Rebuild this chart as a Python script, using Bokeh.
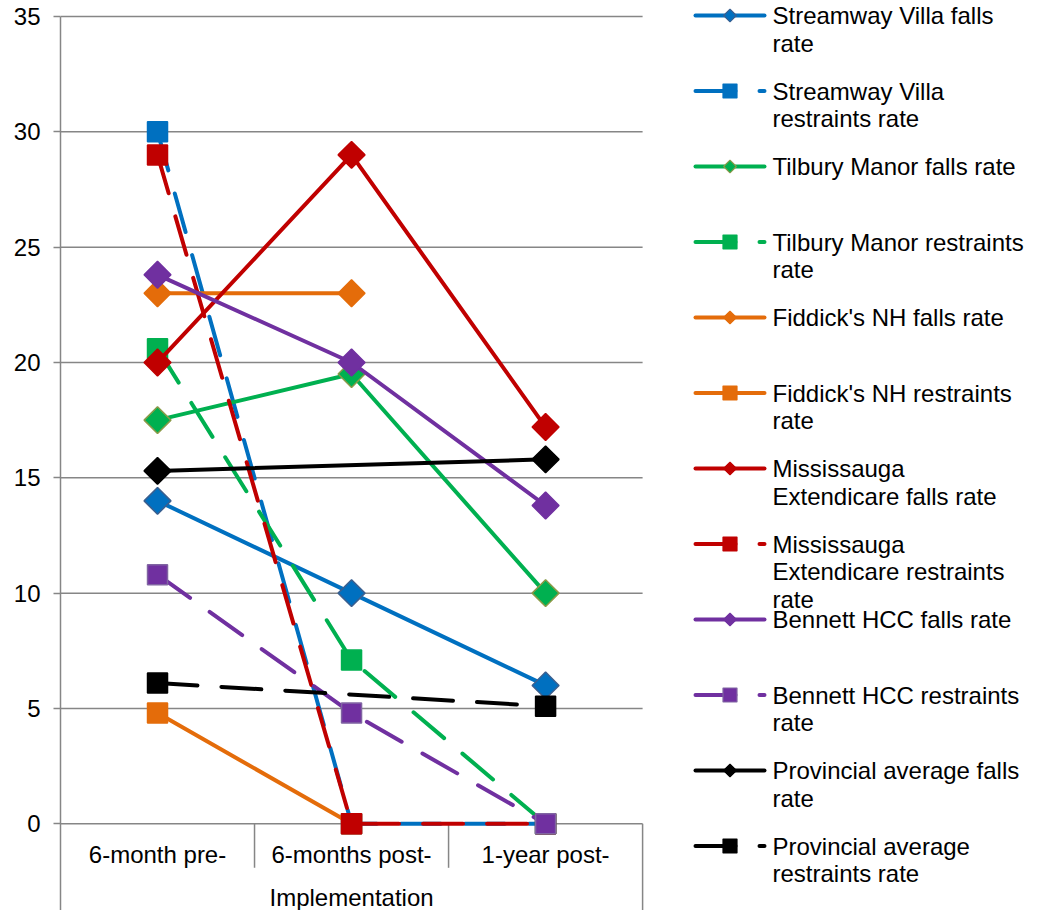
import math
from bokeh.plotting import figure
from bokeh.layouts import row
from bokeh.models import Range1d, FixedTicker
from bokeh.core.properties import value
from bokeh.embed import file_html
from bokeh.resources import INLINE

# ---------------- data ----------------
categories = ["6-month pre-", "6-months post-", "1-year post-"]
group_label = "Implementation"
y_ticks = [0, 5, 10, 15, 20, 25, 30, 35]

series_names = [
    "Streamway Villa falls rate",
    "Streamway Villa restraints rate",
    "Tilbury Manor falls rate",
    "Tilbury Manor restraints rate",
    "Fiddick's NH falls rate",
    "Fiddick's NH restraints rate",
    "Mississauga Extendicare falls rate",
    "Mississauga Extendicare restraints rate",
    "Bennett HCC falls rate",
    "Bennett HCC restraints rate",
    "Provincial average falls rate",
    "Provincial average restraints rate",
]
# legend text as wrapped in the original
legend_lines = [
    ["Streamway Villa falls", "rate"],
    ["Streamway Villa", "restraints rate"],
    ["Tilbury Manor falls rate"],
    ["Tilbury Manor restraints", "rate"],
    ["Fiddick's NH falls rate"],
    ["Fiddick's NH restraints", "rate"],
    ["Mississauga", "Extendicare falls rate"],
    ["Mississauga", "Extendicare restraints", "rate"],
    ["Bennett HCC falls rate"],
    ["Bennett HCC restraints", "rate"],
    ["Provincial average falls", "rate"],
    ["Provincial average", "restraints rate"],
]

streamway_falls = [14.0, 10.0, 6.0]
streamway_restraints = [30.0, 0.0, 0.0]
tilbury_falls = [17.5, 19.5, 10.0]
tilbury_restraints = [20.6, 7.1, 0.0]
fiddick_falls = [23.0, 23.0, None]
fiddick_restraints = [4.8, 0.0, None]
mississauga_falls = [20.0, 29.0, 17.2]
mississauga_restraints = [29.0, 0.0, 0.0]
bennett_falls = [23.8, 20.0, 13.8]
bennett_restraints = [10.8, 4.8, 0.0]
provincial_falls = [15.3, None, 15.8]
provincial_restraints = [6.1, None, 5.1]

series_values = [
    streamway_falls, streamway_restraints,
    tilbury_falls, tilbury_restraints,
    fiddick_falls, fiddick_restraints,
    mississauga_falls, mississauga_restraints,
    bennett_falls, bennett_restraints,
    provincial_falls, provincial_restraints,
]

# ---------------- styles ----------------
BLUE, GREEN, ORANGE, RED, PURPLE, BLACK = "#0070C0", "#00B050", "#E46C0A", "#C00000", "#7030A0", "#000000"
series_colors = [BLUE, BLUE, GREEN, GREEN, ORANGE, ORANGE, RED, RED, PURPLE, PURPLE, BLACK, BLACK]
marker_borders = ["#3A5F8F", BLUE, "#8A9A48", GREEN, ORANGE, ORANGE, RED, RED, PURPLE, "#8064A2", BLACK, BLACK]
is_diamond = [True, False] * 6
dashed = [False, True, False, True, False, False, False, True, False, True, False, True]

FONT = value("Liberation Sans")
FS = "24px"
GRID = "#868686"
DASH = "40 24"

PX_PER_UNIT = 807.3 / 35.0
Y_BOTTOM = -(910 - 823.3) / PX_PER_UNIT
Y_TOP = 35 + 16 / PX_PER_UNIT
ncat = len(categories)

p = figure(
    width=680, height=910,
    x_range=Range1d(0, ncat * 1.0067), y_range=Range1d(Y_BOTTOM, Y_TOP),
    x_axis_location=None, toolbar_location=None, output_backend="svg",
    min_border_left=60, min_border_right=34, min_border_top=0, min_border_bottom=0,
)
p.grid.visible = False
p.outline_line_color = None
p.background_fill_color = "white"
p.border_fill_color = "white"

ax = p.yaxis[0]
ax.ticker = FixedTicker(ticks=y_ticks)
ax.bounds = (Y_BOTTOM, max(y_ticks))
ax.minor_tick_line_color = None
ax.major_tick_in = 0
ax.major_tick_out = 7
ax.major_tick_line_color = GRID
ax.major_tick_line_width = 1.5
ax.axis_line_color = GRID
ax.axis_line_width = 1.5
ax.major_label_text_font = "Liberation Sans"
ax.major_label_text_font_size = FS
ax.major_label_text_color = "black"
ax.major_label_standoff = 13

# horizontal gridlines across the category span
p.segment(x0=[0] * len(y_ticks), x1=[ncat] * len(y_ticks), y0=y_ticks, y1=y_ticks,
          line_color=GRID, line_width=1.5)
# category separators and the right-hand border of the category axis
sep_x = list(range(1, ncat))
p.segment(x0=sep_x, x1=sep_x, y0=[0] * len(sep_x), y1=[-44 / PX_PER_UNIT] * len(sep_x),
          line_color=GRID, line_width=1.5)
p.segment(x0=[ncat], x1=[ncat], y0=[0], y1=[Y_BOTTOM], line_color=GRID, line_width=1.5)

# category labels and the group label
cat_x = [i + 0.5 for i in range(ncat)]
p.text(x=cat_x, y=[-(853.5 - 823.3) / PX_PER_UNIT] * ncat, text=categories,
       text_align="center", text_baseline="middle", text_font=FONT,
       text_font_size=FS, text_color="black")
p.text(x=[ncat / 2], y=[-(896.5 - 823.3) / PX_PER_UNIT], text=[group_label],
       text_align="center", text_baseline="middle", text_font=FONT,
       text_font_size=FS, text_color="black")

for vals, col, bcol, dia, dsh in zip(series_values, series_colors, marker_borders, is_diamond, dashed):
    xs = [cat_x[i] for i, v in enumerate(vals) if v is not None]
    ys = [v for v in vals if v is not None]
    p.line(xs, ys, line_color=col, line_width=4, line_dash=DASH if dsh else "solid",
           line_cap="round", line_join="round")
    p.scatter(xs, ys, marker="square", angle=math.pi / 4 if dia else 0.0,
              size=19 if dia else 20, fill_color=col, line_color=bcol, line_width=1.5)

# ---------------- legend panel ----------------
# frame spans pixel rows 0..910, data units = pixels
leg = figure(
    width=359, height=910, x_range=Range1d(680, 1039), y_range=Range1d(910, 0),
    x_axis_location=None, y_axis_location=None, toolbar_location=None,
    output_backend="svg",
    min_border_left=0, min_border_right=0, min_border_top=0, min_border_bottom=0,
)
leg.grid.visible = False
leg.outline_line_color = None
leg.background_fill_color = "white"
leg.border_fill_color = "white"

for i, (lines, col, bcol, dia, dsh) in enumerate(zip(legend_lines, series_colors, marker_borders, is_diamond, dashed)):
    yc = 15 + 75.5 * i
    leg.line([695, 764], [yc, yc], line_color=col, line_width=4,
             line_dash=DASH if dsh else "solid", line_cap="round")
    leg.scatter([729.5], [yc], marker="square", angle=math.pi / 4 if dia else 0.0,
                size=9 if dia else 14, fill_color=col, line_color=bcol, line_width=1.2)
    leg.text(x=[772] * len(lines), y=[yc + 27.5 * k for k in range(len(lines))], text=lines,
             text_align="left", text_baseline="middle", text_font=FONT,
             text_font_size=FS, text_color="black")

layout = row(p, leg, spacing=0)
open("out.html", "w").write(file_html(layout, INLINE))
